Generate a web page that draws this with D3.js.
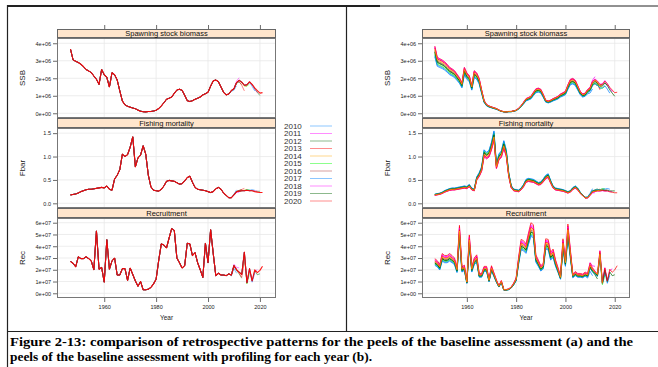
<!DOCTYPE html>
<html><head><meta charset="utf-8">
<script src="https://cdn.jsdelivr.net/npm/d3@7"></script>
<style>body{margin:0;background:#fff} svg{display:block}</style>
</head><body><svg id="c" width="658" height="367"></svg>
<script>
// ---------------- DATA ----------------
const firstYear = 1947;
// SSB (millions of tonnes), final run, 1947-2021
const ssbBase = [3.66,3.05,2.97,2.9,2.8,2.67,2.5,2.42,2.32,2.13,1.94,1.65,2.5,2.2,2.05,1.5,2.32,2.2,1.9,1.28,
  0.7,0.48,0.4,0.35,0.3,0.26,0.18,0.12,0.09,0.08,0.1,0.1,0.13,0.17,0.27,0.42,0.6,0.8,0.86,0.93,
  1.14,1.33,1.37,1.31,1.03,0.72,0.67,0.72,0.8,0.86,0.93,1.05,1.12,1.2,1.55,1.85,1.9,1.8,1.5,1.2,
  1.05,1.1,1.3,1.4,1.75,1.88,1.78,1.6,1.62,1.8,1.65,1.45,1.3,1.15,1.18];
// Fbar, 1947-2021
const fbarBase = [0.18,0.19,0.2,0.22,0.25,0.27,0.29,0.3,0.3,0.31,0.32,0.33,0.34,0.33,0.37,0.3,0.28,0.52,0.6,0.72,
  1.05,1.0,1.04,1.2,1.42,0.78,0.97,1.03,1.23,1.05,0.6,0.35,0.28,0.27,0.26,0.3,0.37,0.47,0.49,0.48,
  0.47,0.44,0.41,0.42,0.48,0.55,0.58,0.45,0.34,0.3,0.29,0.28,0.27,0.25,0.23,0.25,0.31,0.34,0.3,0.22,
  0.17,0.12,0.12,0.18,0.25,0.26,0.27,0.27,0.28,0.27,0.27,0.25,0.24,0.23,0.23];
// Recruitment (x 1e7), 1947-2021
const recBase = [2.7,2.55,2.25,3.1,2.95,2.95,3.1,2.95,2.75,2.0,5.3,2.05,2.2,0.95,4.55,2.05,2.75,3.0,1.55,1.55,
  2.1,2.1,1.1,2.15,1.6,1.05,0.6,1.0,0.3,0.3,0.35,0.5,0.8,1.2,2.8,4.2,4.1,3.85,4.7,5.5,
  5.35,3.0,2.6,2.15,2.35,4.25,4.2,3.2,3.45,2.6,2.0,1.35,4.25,2.6,5.4,3.4,1.5,1.7,1.55,1.55,
  1.5,1.65,1.55,2.35,2.0,1.8,1.6,3.5,0.9,2.1,1.05,2.0,1.75,1.95,2.3];

const peelYears = [2010,2011,2012,2013,2014,2015,2016,2017,2018,2019,2020];
const peelColors = ["#0080ff","#ff00ff","#006400","#ff0000","#ffa500","#00ff00","#a52a2a","#0080ff","#ff00ff","#006400","#ff0000"];

// retrospective deviation of each peel in its last three years (peel-1, peel, peel+1)
const ssbTailDev = [[0.97,0.94,0.9],[1.02,1.05,1.08],[0.98,0.95,0.92],[0.97,0.9,0.8],[1.0,0.97,0.95],
  [0.98,0.96,0.93],[1.02,1.0,0.97],[0.97,0.93,0.88],[0.98,0.95,0.9],[0.96,0.92,0.88],[1,1,1]];
const fbarTailDev = [[1.05,1.1,1.15],[0.95,0.92,0.9],[1.03,1.06,1.1],[1.05,1.1,1.18],[1.0,1.04,1.06],
  [1.02,1.05,1.08],[0.98,1.0,1.03],[1.04,1.08,1.12],[1.02,1.06,1.1],[1.03,1.07,1.12],[1,1,1]];
const recTailDev = [[0.95,0.9,0.85],[1.05,1.1,1.2],[0.97,0.92,0.8],[0.95,0.85,0.75],[1.0,0.95,0.9],
  [0.97,0.9,0.8],[1.0,0.95,1.1],[0.96,0.9,0.85],[0.98,0.92,1.15],[0.95,0.9,0.85],[1,1,1]];

// panel (b): level of each profiled peel relative to the reference run
const ssbLevelB = [0.88,1.03,0.95,1.05,1.0,0.92,0.98,0.9,1.04,0.96,1.02];
const fbarLevelB = [1.09,0.97,1.04,0.95,1.0,1.06,1.02,1.08,0.96,1.03,0.98];
const recLevelB = [0.88,1.06,0.95,1.09,1.0,0.92,0.98,0.9,1.04,0.95,1.02];
const ssbLevelA = [1,1,1,1,1,1,1,1,1,1,1];
const fbarLevelA = [1,1,1,1,1,1,1,1,1,1,1];
const recLevelA = [1,1,1,1,1,1,1,1,1,1,1];

const xTicks = [1960,1980,2000,2020];
const ssbTicks = [0,1,2,3,4];
const ssbTickLabels = ["0e+00","1e+06","2e+06","3e+06","4e+06"];
const fbarTicks = [0,0.5,1.0,1.5];
const fbarTickLabels = ["0.0","0.5","1.0","1.5"];
const recTicks = [0,1,2,3,4,5,6];
const recTickLabels = ["0e+00","1e+07","2e+07","3e+07","4e+07","5e+07","6e+07"];

const captionLines = [
  "Figure 2-13: comparison of retrospective patterns for the peels of the baseline assessment (a) and the",
  "peels of the baseline assessment with profiling for each year (b)."
];

// ---------------- DRAW ----------------
const svg = d3.select("#c");
svg.append("rect").attr("width",658).attr("height",367).attr("fill","#fff");
const FONT = "'Liberation Sans', Arial, sans-serif";

const rows = [
  {strip:"Spawning stock biomass", title:"SSB", s0:29, y0:38, y1:118, dom:[-0.27,4.3], base:ssbBase, dev:ssbTailDev, lvl:[ssbLevelA,ssbLevelB], ticks:ssbTicks, labels:ssbTickLabels},
  {strip:"Fishing mortality", title:"Fbar", s0:118, y0:128, y1:208, dom:[-0.1,1.61], base:fbarBase, dev:fbarTailDev, lvl:[fbarLevelA,fbarLevelB], ticks:fbarTicks, labels:fbarTickLabels},
  {strip:"Recruitment", title:"Rec", s0:208, y0:218, y1:298, dom:[-0.4,6.4], base:recBase, dev:recTailDev, lvl:[recLevelA,recLevelB], ticks:recTicks, labels:recTickLabels}
];
const sides = [
  {x0:57, x1:276, titleX:22, order:[0,1,2,3,4,5,6,7,8,9,10]},
  {x0:422, x1:630, titleX:387, order:[0,1,2,3,5,6,7,8,9,10,4]}
];

function peelSeries(row, side, p){
  const endYear = peelYears[p] + 1;
  const lvl = row.lvl[side][p];
  const out = [];
  row.base.forEach((v,i)=>{
    const yr = firstYear + i;
    if (yr > endYear) return;
    let d = 1;
    const k = yr - (endYear - 2);
    if (k >= 0) d = row.dev[p][k];
    out.push([yr, v*lvl*d]);
  });
  return out;
}

sides.forEach((side, si)=>{
  const x = d3.scaleLinear().domain([1941.8, 2026.2]).range([side.x0, side.x1]);
  rows.forEach((row, ri)=>{
    const y = d3.scaleLinear().domain(row.dom).range([row.y1, row.y0]);
    const g = svg.append("g");
    g.append("rect").attr("x",side.x0).attr("y",row.y0).attr("width",side.x1-side.x0).attr("height",row.y1-row.y0).attr("fill","#fff");
    g.selectAll(".gx").data(xTicks).join("line")
      .attr("x1",d=>x(d)).attr("x2",d=>x(d)).attr("y1",row.y0).attr("y2",row.y1)
      .attr("stroke","#e8e8e8").attr("stroke-width",0.8);
    g.selectAll(".gy").data(row.ticks).join("line")
      .attr("x1",side.x0).attr("x2",side.x1).attr("y1",d=>y(d)).attr("y2",d=>y(d))
      .attr("stroke","#e8e8e8").attr("stroke-width",0.8);
    const clipId = `clip${si}${ri}`;
    svg.append("clipPath").attr("id",clipId).append("rect")
      .attr("x",side.x0).attr("y",row.y0).attr("width",side.x1-side.x0).attr("height",row.y1-row.y0);
    const line = d3.line().x(d=>x(d[0])).y(d=>y(d[1]));
    const lg = g.append("g").attr("clip-path",`url(#${clipId})`);
    const last = side.order[side.order.length-1];
    side.order.forEach(p=>{
      const isLast = p === last;
      lg.append("path").attr("d", line(peelSeries(row, si, p)))
        .attr("fill","none").attr("stroke",peelColors[p])
        .attr("stroke-width", si===0 ? (isLast?1.1:0.9) : 0.8)
        .attr("stroke-opacity", si===0 ? (isLast?0.9:0.55) : 0.9)
        .attr("stroke-linejoin","round");
    });
    g.append("rect").attr("x",side.x0+0.5).attr("y",row.y0+0.5).attr("width",side.x1-side.x0-1).attr("height",row.y1-row.y0-1)
      .attr("fill","none").attr("stroke","#777").attr("stroke-width",1);
    g.append("rect").attr("x",side.x0+0.5).attr("y",row.s0+0.5).attr("width",side.x1-side.x0-1).attr("height",row.y0-row.s0-1)
      .attr("fill","#ffe5cc").attr("stroke","#666").attr("stroke-width",1);
    g.append("text").attr("x",(side.x0+side.x1)/2).attr("y",(row.s0+row.y0)/2+2.8)
      .attr("text-anchor","middle").attr("font-family",FONT).attr("font-size","7.5px").attr("fill","#111")
      .text(row.strip);
    const ay = d3.axisLeft(y).tickValues(row.ticks).tickFormat((d,i)=>row.labels[i]).tickSize(4).tickPadding(2);
    const ag = svg.append("g").attr("transform",`translate(${side.x0},0)`).call(ay);
    ag.select(".domain").remove();
    ag.selectAll("line").attr("stroke","#444").attr("stroke-width",0.8);
    ag.selectAll("text").attr("font-family",FONT).attr("font-size","5.5px").attr("fill","#222");
    svg.append("text").attr("transform",`translate(${side.titleX},${(row.y0+row.y1)/2}) rotate(-90)`)
      .attr("text-anchor","middle").attr("dy","0.35em").attr("font-family",FONT).attr("font-size","8px").attr("fill","#222")
      .text(row.title);
  });
  const at = d3.axisTop(x).tickValues(xTicks).tickFormat("").tickSize(4);
  const tg = svg.append("g").attr("transform",`translate(0,29)`).call(at);
  tg.select(".domain").remove();
  tg.selectAll("line").attr("stroke","#444").attr("stroke-width",0.8);
  const ab = d3.axisBottom(x).tickValues(xTicks).tickFormat(d3.format("d")).tickSize(4).tickPadding(3);
  const bg = svg.append("g").attr("transform",`translate(0,298)`).call(ab);
  bg.select(".domain").remove();
  bg.selectAll("line").attr("stroke","#444").attr("stroke-width",0.8);
  bg.selectAll("text").attr("font-family",FONT).attr("font-size","5.5px").attr("fill","#222");
  svg.append("text").attr("x",(side.x0+side.x1)/2).attr("y",320).attr("text-anchor","middle")
    .attr("font-family",FONT).attr("font-size","6.5px").attr("fill","#222").text("Year");
});

// legend
const leg = svg.append("g");
peelYears.forEach((yr,i)=>{
  const yy = 126 + i*7.5;
  leg.append("text").attr("x",284).attr("y",yy+2.8).attr("font-family",FONT).attr("font-size","8px").attr("fill","#333").text(yr);
  leg.append("line").attr("x1",310).attr("x2",332).attr("y1",yy).attr("y2",yy)
    .attr("stroke",peelColors[i]).attr("stroke-opacity",0.45).attr("stroke-width",1);
});

// frame
const fr = svg.append("g").attr("stroke","#222").attr("fill","none");
fr.append("line").attr("x1",7).attr("x2",380).attr("y1",6).attr("y2",6).attr("stroke-width",2);
fr.append("line").attr("x1",380).attr("x2",658).attr("y1",6).attr("y2",6).attr("stroke-width",1);
fr.append("line").attr("x1",7.5).attr("x2",7.5).attr("y1",5).attr("y2",367).attr("stroke-width",1.2);
fr.append("line").attr("x1",346.5).attr("x2",346.5).attr("y1",6).attr("y2",331).attr("stroke-width",1.2);
fr.append("line").attr("x1",7).attr("x2",658).attr("y1",331.5).attr("y2",331.5).attr("stroke-width",1.2);

// caption
const capW = [623, 362];
captionLines.forEach((t,i)=>{
  svg.append("text").attr("x",10).attr("y",345.5 + i*15.5)
    .attr("font-family","'Liberation Serif','Times New Roman',serif").attr("font-weight","bold")
    .attr("font-size","13.5px").attr("fill","#000")
    .attr("textLength",capW[i]).attr("lengthAdjust","spacingAndGlyphs").text(t);
});
</script></body></html>
